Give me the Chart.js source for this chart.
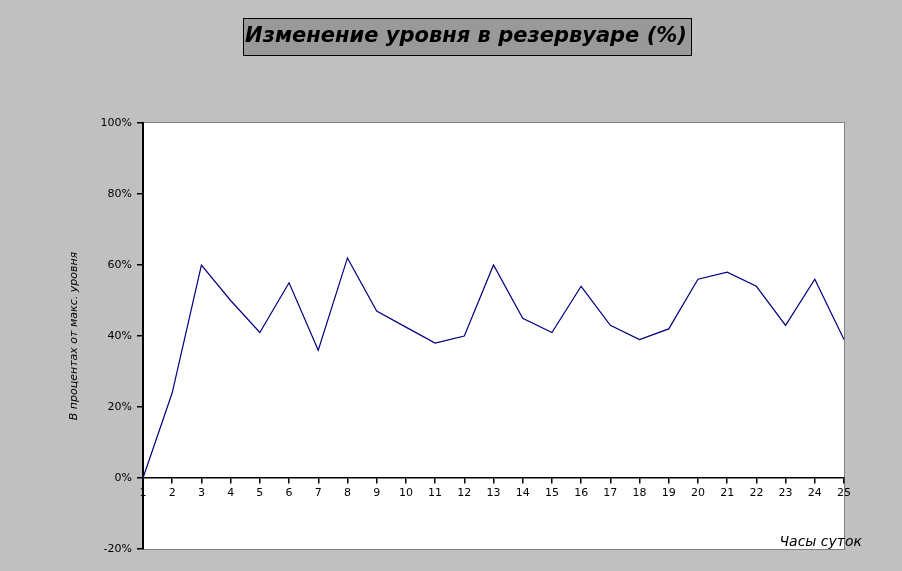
<!DOCTYPE html>
<html lang="ru">
<head>
<meta charset="UTF-8">
<title>Изменение уровня в резервуаре (%)</title>
<script src="https://cdn.jsdelivr.net/npm/chart.js"></script>
<style>
  html, body { margin: 0; padding: 0; background: #c0c0c0; }
  #wrap { width: 902px; height: 571px; }
</style>
</head>
<body>
<div id="wrap"><canvas id="levelChart" width="902" height="571"></canvas></div>
<script>
// данные
var hours = ['1','2','3','4','5','6','7','8','9','10','11','12','13','14','15','16','17','18','19','20','21','22','23','24','25'];
var levels = [0, 24, 60, 50, 41, 55, 36, 62, 47, 42.5, 38, 40, 60, 45, 41, 54, 43, 39, 42, 56, 58, 54, 43, 56, 39];
var yMin = -20, yMax = 100, yStep = 20;
var chartTitle = 'Изменение уровня в резервуаре (%)';
var xTitle = 'Часы суток';
var yTitle = 'В процентах от макс. уровня';

var FONT = '"DejaVu Sans", Verdana, sans-serif';

// фон, белая область и рамка, заголовок
var frame = {
    id: 'frame',
    beforeDraw: function (chart) {
        var ctx = chart.ctx, a = chart.chartArea;
        ctx.save();
        ctx.fillStyle = '#c0c0c0';
        ctx.fillRect(0, 0, chart.width, chart.height);
        ctx.fillStyle = '#ffffff';
        ctx.fillRect(a.left, a.top, a.right - a.left, a.bottom - a.top);
        ctx.strokeStyle = '#808080';
        ctx.lineWidth = 1;
        ctx.strokeRect(a.left + 0.5, a.top - 0.5, a.right - a.left, a.bottom - a.top + 1);
        ctx.restore();
    },
    afterDraw: function (chart) {
        var ctx = chart.ctx, a = chart.chartArea;
        ctx.save();
        // заголовок в рамке
        ctx.fillStyle = '#999999';
        ctx.fillRect(243.5, 18.5, 448, 37);
        ctx.strokeStyle = '#000000';
        ctx.lineWidth = 1;
        ctx.strokeRect(243.5, 18.5, 448, 37);
        ctx.fillStyle = '#000000';
        ctx.font = 'italic bold 21px ' + FONT;
        ctx.textAlign = 'center';
        ctx.textBaseline = 'middle';
        ctx.fillText(chartTitle, 466, 37);
        // подпись оси X
        ctx.font = 'italic 14px ' + FONT;
        ctx.textAlign = 'right';
        ctx.fillText(xTitle, a.right + 18, a.bottom - 7);
        ctx.restore();
    }
};

var ctx = document.getElementById('levelChart').getContext('2d');
var levelChart = new Chart(ctx, {
    type: 'line',
    data: {
        labels: hours,
        datasets: [{
            label: chartTitle,
            data: levels,
            borderColor: '#000080',
            borderWidth: 1.2,
            pointRadius: 0,
            tension: 0,
            fill: false
        }]
    },
    options: {
        responsive: false,
        animation: false,
        devicePixelRatio: 1,
        layout: { padding: { left: 64, top: 123, right: 58, bottom: 22 } },
        plugins: {
            legend: { display: false },
            title: { display: false },
            tooltip: { enabled: false }
        },
        scales: {
            x: {
                position: { y: 0 },
                offset: false,
                grid: { drawOnChartArea: false, drawTicks: true, tickLength: 5, color: '#000000', lineWidth: 1.5 },
                border: { display: true, color: '#000000', width: 1.5 },
                ticks: {
                    color: '#000000',
                    font: { family: FONT, size: 11 },
                    padding: 4,
                    maxRotation: 0,
                    autoSkip: false
                }
            },
            y: {
                min: yMin,
                max: yMax,
                afterFit: function (s) { s.width = 79; },
                grid: { drawOnChartArea: false, drawTicks: true, tickLength: 6, color: '#000000', lineWidth: 1.5 },
                border: { display: true, color: '#000000', width: 2 },
                ticks: {
                    stepSize: yStep,
                    color: '#000000',
                    font: { family: FONT, size: 11 },
                    padding: 5,
                    callback: function (v) { return v + '%'; }
                },
                title: {
                    display: true,
                    text: yTitle,
                    color: '#000000',
                    font: { family: FONT, size: 11, style: 'italic' },
                    padding: 4
                }
            }
        }
    },
    plugins: [frame]
});
</script>
</body>
</html>
